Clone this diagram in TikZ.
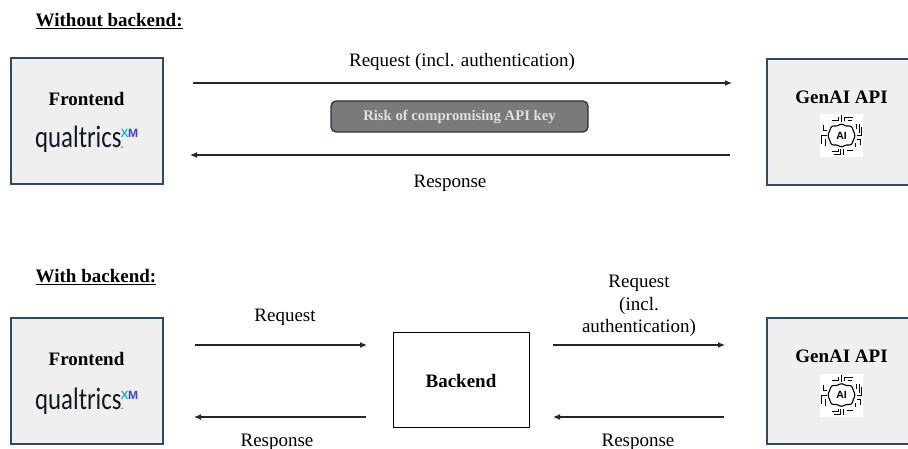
\documentclass[tikz,border=0pt]{standalone}
\usepackage{fontspec}
\setmainfont{Liberation Serif}
\newfontfamily\qfont{Carlito}
\newfontfamily\aifont{Liberation Sans}
\usetikzlibrary{arrows.meta}
\definecolor{boxedge}{HTML}{2F4A5E}
\definecolor{boxfill}{HTML}{EFEFEF}
\definecolor{riskfill}{HTML}{7A7A7A}
\definecolor{riskedge}{HTML}{1F3547}
\definecolor{xmc}{HTML}{12B8EA}
\definecolor{xmm}{HTML}{3F3FD0}
\definecolor{qtext}{HTML}{101A24}
\tikzset{
  x=1pt,y=-1pt,
  panel/.style={draw=boxedge,line width=1.6pt,fill=boxfill,minimum width=152pt,minimum height=126pt,anchor=north west,inner sep=0pt},
  plain/.style={draw=black,line width=1pt,fill=white,minimum width=136pt,minimum height=95pt,inner sep=0pt},
  risk/.style={draw=riskedge,line width=1.3pt,fill=riskfill,rounded corners=5pt,minimum width=257pt,minimum height=31pt,inner sep=0pt,text=white!88!black,font=\fontsize{14.7}{17}\selectfont\bfseries},
  flow/.style={-{Latex[length=7pt,width=6pt]},line width=1.2pt,black!85},
  lbl/.style={font=\fontsize{19}{22.5}\selectfont,inner sep=0pt,align=center},
  ttl/.style={font=\fontsize{19}{22}\selectfont\bfseries,inner sep=0pt},
  head/.style={font=\fontsize{19}{22}\selectfont\bfseries,inner sep=0pt,anchor=base west},
  qual/.pic={
    \node[inner sep=0pt,anchor=base west,text=qtext,xscale=.8,font=\qfont\fontsize{31}{33}\selectfont] at (-51,9) {qualtrics};
    \fill[qtext] (36,8.2) circle (.7);
    \node[inner sep=0pt,anchor=base west,text=xmc,font=\aifont\bfseries\fontsize{12}{13}\selectfont] at (34.5,-1) {X};
    \node[inner sep=0pt,anchor=base west,text=xmm,font=\aifont\bfseries\fontsize{12}{13}\selectfont] at (42,-1) {M};
  },
  aiicon/.pic={
    \fill[white] (-21.5,-21.5) rectangle (21.5,21.5);
    \draw[black,line width=1.1pt,rounded corners=2.5pt] (-12,-4) -- (-10,-10) -- (-5,-9) -- (0,-12) -- (5,-9) -- (10,-10) -- (12,-4) -- (14,0) -- (12,4) -- (10,10) -- (5,9) -- (0,12) -- (-5,9) -- (-10,10) -- (-12,4) -- (-14,0) -- cycle;
    \node[inner sep=0pt,font=\aifont\bfseries\fontsize{10.5}{11}\selectfont] at (0,0) {AI};
    \begin{scope}[black,line width=1pt]
      % top
      \draw (-10,-15) -- (-3,-15) -- (-3,-18);
      \draw (0,-13) -- (0,-20);
      \draw (3,-14) -- (3,-18) -- (11,-18);
      \draw (6,-15) -- (10,-15);
      % bottom
      \draw (-10,16) -- (-3,16) -- (-3,14);
      \draw (-8,19) -- (-1,19) -- (-1,14);
      \draw (2,14) -- (2,20);
      \draw (5,15) -- (11,15);
      % left
      \draw (-15,-5) -- (-18,-5) -- (-18,-10);
      \draw (-15,0) -- (-20,0) -- (-20,9);
      \draw (-16,4) -- (-16,11);
      % right
      \draw (15,-6) -- (15,-11);
      \draw (18,-2) -- (18,-11);
      \draw (15,0) -- (20,0) -- (20,-8);
      \draw (15,4) -- (19,4) -- (19,10);
      \draw (14,8) -- (14,12);
    \end{scope}
  }
}
\begin{document}
\begin{tikzpicture}
\useasboundingbox (0,0) rectangle (908,449);
\node[head] (h1) at (35.5,27) {\underline{Without backend:}};
\node[head] (h2) at (35.5,283) {\underline{With backend:}};
% top row
\node[panel] (fe1) at (10,57) {};
\node[panel] (api1) at (766,58) {};
\node[ttl] (fe1t) at (86.5,99) {Frontend};
\node[ttl] (api1t) at (841.5,97) {GenAI API};
\pic at (86,139) {qual};
\pic at (841.5,135.5) {aiicon};
\node[risk] (risk) at (459.5,116.5) {Risk of compromising API key};
\coordinate (a1s) at (193,83);
\coordinate (a1e) at (732,83);
\coordinate (a2s) at (730,155);
\coordinate (a2e) at (190,155);
\draw[flow] (a1s) -- (a1e);
\draw[flow] (a2s) -- (a2e);
\node[lbl] (l1) at (462,62) {Request (incl. authentication)};
\node[lbl] (l2) at (450,183) {Response};
% bottom row
\node[panel] (fe2) at (10,317) {};
\node[panel] (api2) at (766,317) {};
\node[ttl] (fe2t) at (86.5,359) {Frontend};
\node[ttl] (api2t) at (841.5,356) {GenAI API};
\pic at (86,400) {qual};
\pic at (841.5,395) {aiicon};
\node[plain] (be) at (461,379.5) {};
\node[ttl] (bet) at (461,381) {Backend};
\coordinate (b1s) at (195,345);
\coordinate (b1e) at (367,345);
\coordinate (b2s) at (366,417);
\coordinate (b2e) at (194,417);
\coordinate (b3s) at (553,345);
\coordinate (b3e) at (725,345);
\coordinate (b4s) at (724,417);
\coordinate (b4e) at (553,417);
\draw[flow] (b1s) -- (b1e);
\draw[flow] (b2s) -- (b2e);
\draw[flow] (b3s) -- (b3e);
\draw[flow] (b4s) -- (b4e);
\node[lbl] (l3) at (285,317) {Request};
\node[lbl] (l4) at (277,442) {Response};
\node[lbl] (l5) at (639,306) {Request\\(incl.\\authentication)};
\node[lbl] (l6) at (638,442) {Response};
\end{tikzpicture}
\end{document}
